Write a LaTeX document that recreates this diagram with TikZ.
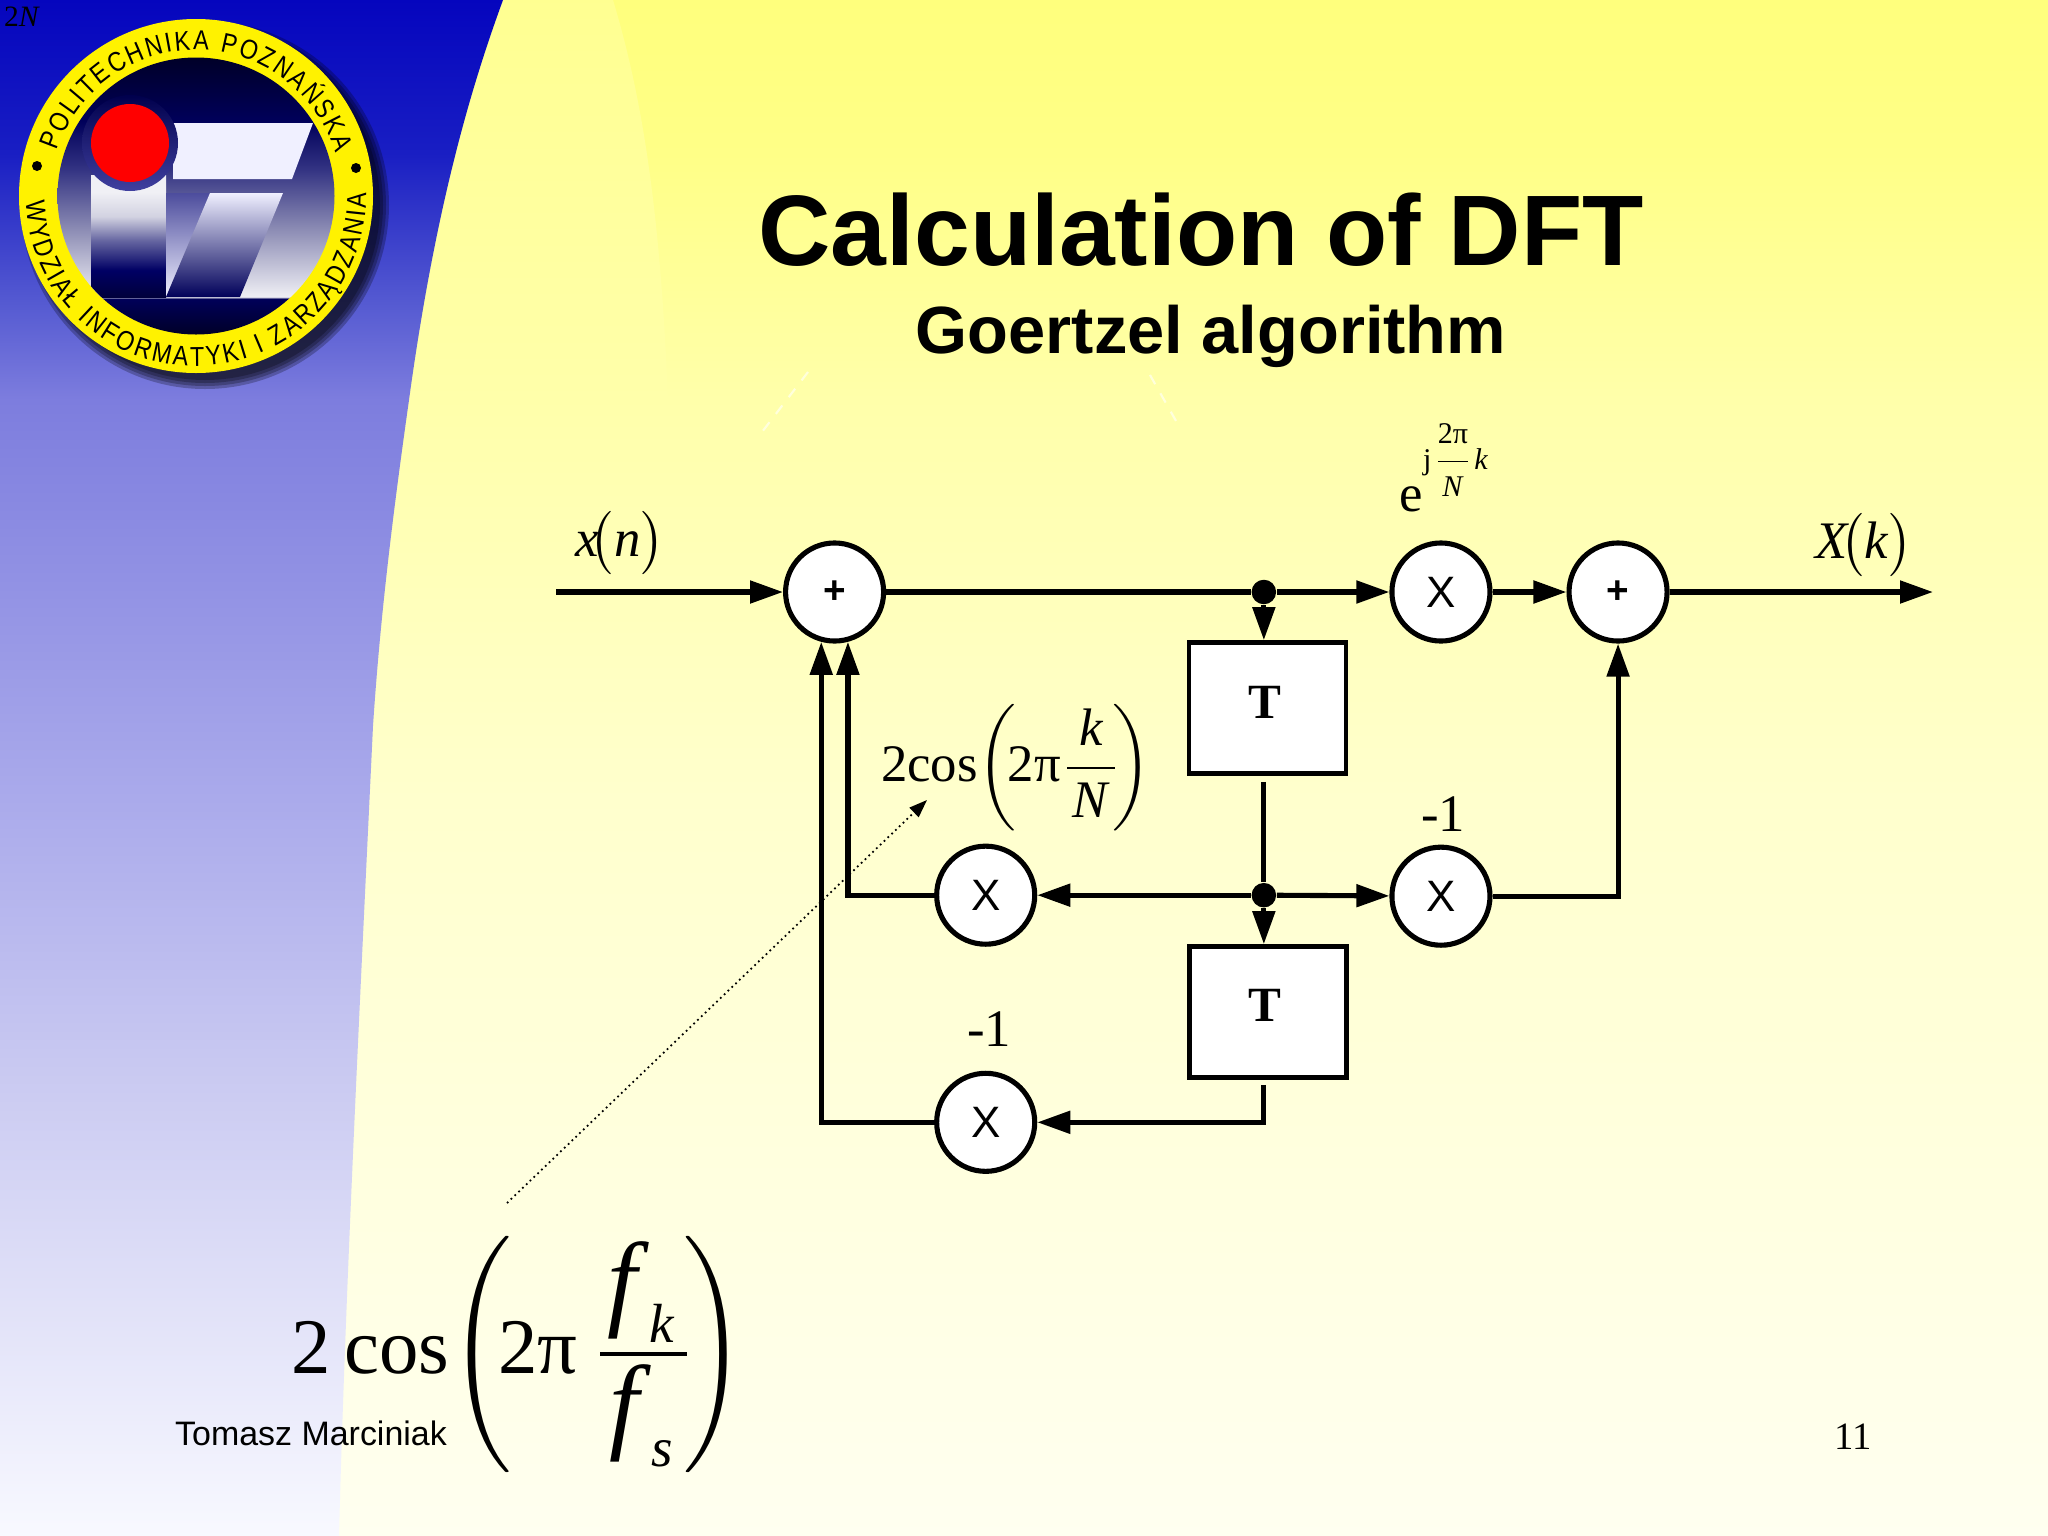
\documentclass[tikz,border=0pt]{standalone}
\usepackage{amsmath}
\usepackage{fontspec}
\setmainfont{Liberation Serif}
\setsansfont{Liberation Sans}
\newfontfamily\logofont[FakeStretch=0.85]{Liberation Sans}
\usepackage{tikz}
\usetikzlibrary{positioning,arrows.meta,decorations.text}
\newcommand{\vi}[1]{\text{\textit{#1}}}
\newcommand{\bigf}{\text{\fontsize{13.5}{15}\selectfont\textit{f}}}
\definecolor{paleyellow}{rgb}{1,1,.57}
\definecolor{midyellow}{rgb}{1,1,.667}
\pgfdeclareverticalshading{slideyellow}{100bp}{rgb(0bp)=(1,1,.941); rgb(25bp)=(1,1,.941); rgb(49bp)=(1,1,.804); rgb(62bp)=(1,1,.667); rgb(70bp)=(1,1,.529); rgb(75bp)=(1,1,.49); rgb(100bp)=(1,1,.49)}
\pgfdeclareverticalshading{slideblue}{100bp}{rgb(0bp)=(.973,.976,1); rgb(25bp)=(.973,.976,1); rgb(39bp)=(.804,.804,.949); rgb(49bp)=(.667,.667,.922); rgb(62bp)=(.49,.49,.87); rgb(65.2bp)=(.33,.35,.82); rgb(70bp)=(.098,.118,.765); rgb(75bp)=(.02,.02,.745); rgb(100bp)=(.02,.02,.745)}
\pgfdeclareverticalshading{logodisc}{100bp}{rgb(0bp)=(0,0,.157); rgb(25bp)=(0,0,.157); rgb(31.6bp)=(0,0,.353); rgb(31.7bp)=(.941,.941,.961); rgb(44bp)=(.549,.549,.706); rgb(55bp)=(.196,.196,.51); rgb(63.5bp)=(0,0,.353); rgb(75bp)=(0,0,.157); rgb(100bp)=(0,0,.157)}
\pgfdeclareverticalshading{logostem}{100bp}{rgb(0bp)=(0,0,.235); rgb(25bp)=(0,0,.235); rgb(36bp)=(0,0,.392); rgb(48bp)=(.392,.392,.627); rgb(58bp)=(.824,.824,.882); rgb(68bp)=(.941,.941,.961); rgb(100bp)=(.941,.941,.961)}

\begin{document}
\begin{tikzpicture}[x=0.01cm,y=-0.01cm,>={Triangle[length=3.3mm,width=2.2mm]},on grid,
  wire/.style={line width=1.45pt},
  mulnode/.style={circle,draw,fill=white,line width=1.45pt,minimum size=0.98cm,inner sep=0pt,font=\sffamily\fontsize{12.5}{14}\selectfont},
  sumnode/.style={mulnode,font=\sffamily\bfseries\fontsize{11}{12}\selectfont},
  delaybox/.style={rectangle,draw,fill=white,line width=1.3pt,minimum width=1.57cm,minimum height=1.31cm,inner sep=0pt},
  joint/.style={circle,fill=black,minimum size=0.245cm,inner sep=0pt},
  lbl/.style={scale=1.5},
  logotext/.style={decorate,decoration={text along path,text align={fit to path},text={|\logofont\fontsize{7.8}{8}\selectfont|#1}}}]
\useasboundingbox (0,0) rectangle (2048,1536);
\shade[shading=slideyellow] (0,0) rectangle (2048,1536);
\shade[top color=paleyellow,bottom color=midyellow] (400,0) -- (613,0) .. controls (640,90) and (660,200) .. (668,400) -- (400,400) -- cycle;
\draw[white,opacity=0.6,dashed,line width=0.6pt] (808,372) -- (762,432) (1150,375) -- (1180,428);
\shade[shading=slideblue] (0,0) -- (503,0) .. controls (470,90) and (435,210) .. (409,400) .. controls (392,520) and (380,620) .. (373,726) .. controls (360,1000) and (345,1300) .. (339,1536) -- (0,1536) -- cycle;

\foreach \r in {184,181,178,175}
  \fill[black,opacity=0.25] (205,205) circle[radius=\r];
\fill[yellow] (196,196) circle[radius=177];
\shade[shading=logodisc] (196,196) circle[radius=138.5];
\begin{scope}
\clip (196,196) circle[radius=138.5];
\shade[shading=logostem] (91,175) rectangle (166,297);
\shade[top color=blue!45!black!70!white,bottom color=white!94!blue] (166,193) -- (210,193) -- (166,297) -- cycle;
\shade[top color=white!94!blue,middle color=blue!40!black!60!white,bottom color=blue!35!black] (210,193) -- (283,193) -- (240,297) -- (166,297) -- cycle;
\fill[white!94!blue] (173,123) -- (313,123) -- (292,179) -- (173,179) -- cycle;
\shade[top color=blue!30!black,bottom color=blue!50!black!75!white] (130,143) circle[radius=48];
\fill[red] (130,143) circle[radius=39];
\end{scope}
\begin{scope}[shift={(196,196)},x=1cm,y=1cm]
\path[logotext={POLITECHNIKA POZNAŃSKA}] (162:1.46) arc[start angle=162,end angle=17,radius=1.46];
\path[logotext={WYDZIAŁ INFORMATYKI I ZARZĄDZANIA}] (182:1.70) arc[start angle=182,end angle=361,radius=1.70];
\end{scope}
\fill[black] (37,166) circle[radius=5] (356,168) circle[radius=5];

\node (pagetag) at (22,17) {\fontsize{8.4}{9}\selectfont 2\textit{N}};
\node (title) at (1201,230) {\sffamily\bfseries\fontsize{28.5}{30}\selectfont Calculation of DFT};
\node (subtitle) at (1211,336) {\sffamily\bfseries\fontsize{19}{21}\selectfont Goertzel algorithm};

\coordinate (inp) at (556,592);
\coordinate (outp) at (1933,592);
\node[sumnode] (addin) at (834.6,592) {\raisebox{-0.7pt}{+}};
\node[joint] (jnone) [right=4.29cm of addin] {};
\node[mulnode] (mulexp) [right=6.06cm of addin] {X};
\node[sumnode] (addout) [right=1.77cm of mulexp] {\raisebox{-0.7pt}{+}};
\node[delaybox] (tone) at (1267.5,708) {};
\node[joint] (jntwo) [below=3.03cm of jnone] {};
\node[delaybox] (ttwo) at (1268,1012) {};
\node[mulnode] (mulr) [below=3.04cm of mulexp] {X};
\node[mulnode] (mulc) [left=2.78cm of jntwo] {X};
\node[mulnode] (mulb) [below=2.27cm of mulc] {X};
\node (tonelbl) at (1265,702) {\bfseries\fontsize{14}{15}\selectfont T};
\node (ttwolbl) at (1265,1005) {\bfseries\fontsize{14}{15}\selectfont T};

\draw[->,wire] (inp) -- (addin);
\draw[wire] (addin) -- (jnone);
\draw[->,wire] (jnone) -- (mulexp);
\draw[->,wire] (mulexp) -- (addout);
\draw[->,wire] (addout) -- (outp);
\draw[->,wire] (jnone) -- (jnone |- tone.north);
\draw[wire,shorten <=1.7pt] (jnone |- tone.south) -- (jntwo);
\draw[->,wire] (jntwo) -- (jntwo |- ttwo.north);
\draw[->,wire] (jntwo) -- (mulr);
\draw[->,wire] (jntwo) -- (mulc);
\draw[->,wire] (mulr) -| (addout);
\draw[->,wire] (mulc) -| (addin.-75);
\draw[->,wire] (mulb) -| (addin.-105);
\draw[->,wire,shorten <=1.4pt] (jntwo |- ttwo.south) |- (mulb);

\coordinate (dotfrom) at (507,1203);
\coordinate (dotto) at (927,800);
\draw[-{Triangle[length=1.8mm,width=1.3mm]},densely dotted,line width=0.5pt] (dotfrom) -- (dotto);

\node[lbl] (xin) at (620,543) {$\vi{x}\!\big(\vi{n}\big)$};
\node[lbl] (xout) at (1864,545) {$\vi{X}\!\big(\vi{k}\big)$};
\node[lbl,anchor=west,inner sep=0pt] (cosk) at (880,768) {$\text{2cos}\!\left(\!\text{2π}\dfrac{\hspace{1pt}\vi{k}\hspace{1pt}}{\hspace{1pt}\vi{N}\hspace{1pt}}\!\right)$};
\node[lbl] (eexp) at (1444,468) {e\raisebox{8pt}{\fontsize{5.7}{7}\selectfont j$\dfrac{\text{2π}}{\vi{N}}\vi{k}$}};
\node[lbl] (negr) at (1443,814) {-1};
\node[lbl] (negb) at (989,1029) {-1};
\node[scale=2.24,anchor=west,inner sep=0pt] (cosf) at (290,1354) {$\text{2\,cos}\!\left(\!\text{2π}\mkern3mu\dfrac{\hspace{1pt}\bigf_{\vi{k}}\hspace{1pt}}{\hspace{1pt}\bigf_{\vi{s}}\hspace{1pt}}\!\right)$};
\node (author) at (311,1433) {\sffamily\fontsize{9.65}{11}\selectfont Tomasz Marciniak};
\node (pagenum) at (1853,1437) {\fontsize{11}{12}\selectfont 11};
\end{tikzpicture}
\end{document}
